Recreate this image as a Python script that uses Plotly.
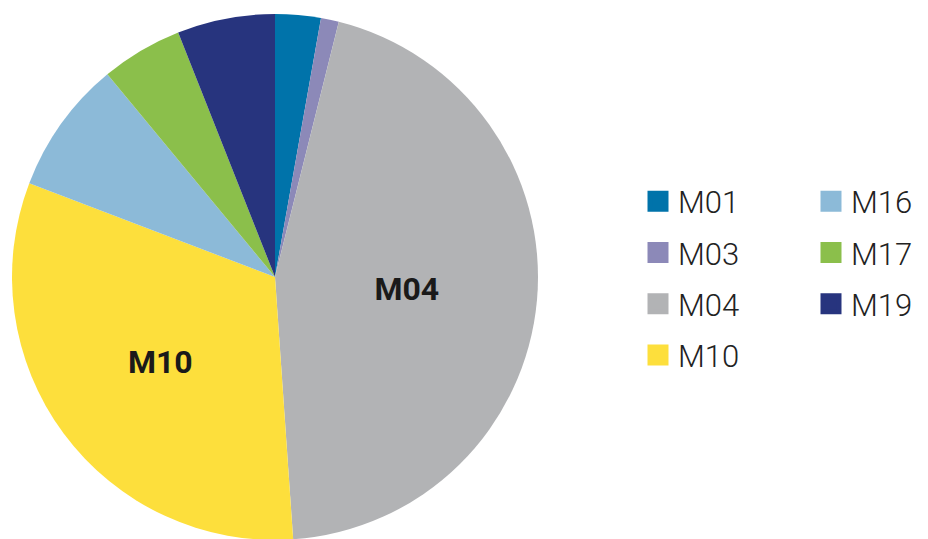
import plotly.graph_objects as go

labels = ["M01", "M03", "M04", "M10", "M16", "M17", "M19"]
values = [2.8, 1.1, 45.0, 31.9, 8.2, 5.0, 6.0]
colors = ["#0073AA", "#8C89B8", "#B2B3B5", "#FDDF3C", "#8CBAD8", "#8BBF4B", "#27347E"]
shown_labels = ["M04", "M10"]

fig = go.Figure()
fig.add_trace(go.Pie(
    labels=labels,
    values=values,
    text=[l if l in shown_labels else "" for l in labels],
    textinfo="text",
    textposition="inside",
    insidetextorientation="horizontal",
    textfont=dict(family="Roboto", size=32, color="#1a1a1a", weight="bold"),
    marker=dict(colors=colors, line=dict(width=0)),
    sort=False,
    direction="clockwise",
    rotation=0,
    hole=0,
    showlegend=False,
    domain=dict(x=[4 / 928, 530 / 928], y=[7 / 539, 1 - 6 / 539]),
))

# legend entries, split into two columns
for i, (lab, col) in enumerate(zip(labels, colors)):
    fig.add_trace(go.Scatter(
        x=[None], y=[None],
        mode="markers",
        marker=dict(symbol="square", size=16, color=col, line=dict(color=col, width=5)),
        name=lab,
        legend="legend" if i < 4 else "legend2",
        legendgroup=lab,
    ))

leg_common = dict(
    font=dict(family="Roboto", size=31, color="#222222", weight=300),
    traceorder="grouped",
    tracegroupgap=8,
    yanchor="top",
    y=0.691,
    bgcolor="rgba(0,0,0,0)",
)

fig.update_layout(
    width=928,
    height=539,
    margin=dict(l=0, r=0, t=0, b=0),
    paper_bgcolor="white",
    plot_bgcolor="white",
    xaxis=dict(visible=False),
    yaxis=dict(visible=False),
    legend=dict(x=630 / 928, xanchor="left", **leg_common),
    legend2=dict(x=803 / 928, xanchor="left", **leg_common),
)

fig.write_html("out.html")
